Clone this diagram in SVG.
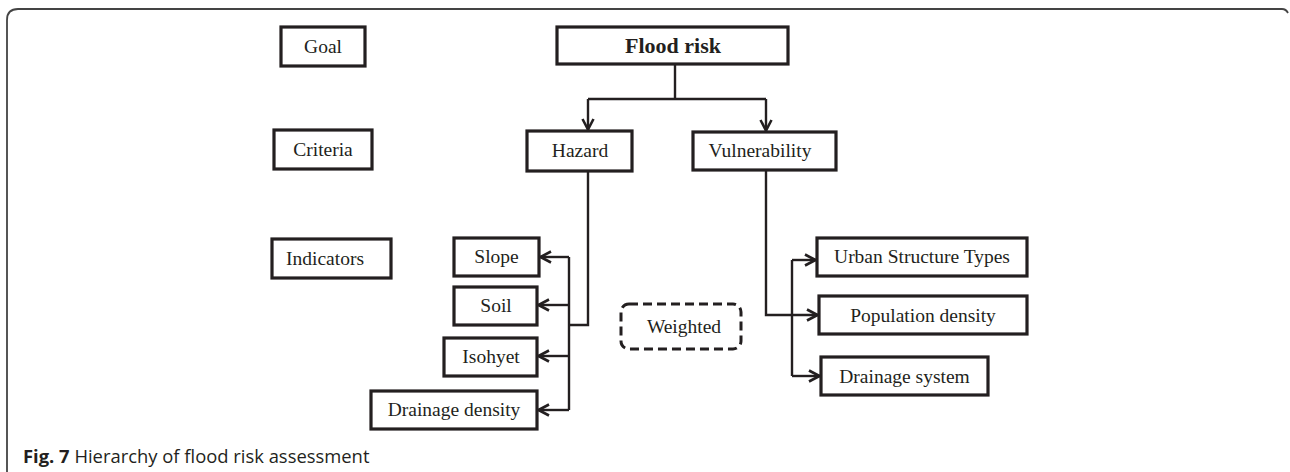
<svg xmlns="http://www.w3.org/2000/svg" width="1290" height="472" viewBox="0 0 1290 472">
<defs>
<style>
.box{fill:#fff;stroke:#231f20;stroke-width:3.2}
.dash{fill:#fff;stroke:#231f20;stroke-width:3;stroke-dasharray:9 5}
.t{font-family:"Liberation Serif","Times New Roman",serif;font-size:19.5px;fill:#231f20;text-anchor:middle}
.tb{font-family:"Liberation Serif","Times New Roman",serif;font-size:22px;font-weight:bold;fill:#231f20;text-anchor:middle}
.ln{fill:none;stroke:#231f20;stroke-width:2.4}
.ar{fill:none;stroke:#231f20;stroke-width:2.4;marker-end:url(#arr)}
.cap{font-family:"Open Sans","Noto Sans",sans-serif;font-size:18.4px;fill:#231f20}
</style>
<marker id="arr" viewBox="0 0 14 14" refX="13" refY="7" markerWidth="14" markerHeight="14" markerUnits="userSpaceOnUse" orient="auto">
<path d="M2,1.5 L12.5,7 L2,12.5" fill="none" stroke="#231f20" stroke-width="2.6"/>
</marker>
</defs>
<rect width="1290" height="472" fill="#fff"/>
<path d="M7,472 L7,20 Q7,9 18,9 L1282,9 Q1286,9 1288,13" fill="none" stroke="#444" stroke-width="1.8"/>

<g id="connectors">
<path class="ln" d="M675,64 V99"/>
<path class="ln" d="M588,99 H766"/>
<path class="ar" d="M588,99 V130"/>
<path class="ar" d="M766,99 V131"/>
<path class="ln" d="M588,171 V325 H569"/>
<path class="ln" d="M569,257 V410"/>
<path class="ar" d="M569,257 H540"/>
<path class="ar" d="M569,305 H538"/>
<path class="ar" d="M569,356 H538"/>
<path class="ar" d="M569,410 H538"/>
<path class="ar" d="M766,170 V315 H818"/>
<path class="ln" d="M792,260 V376"/>
<path class="ar" d="M792,260 H816"/>
<path class="ar" d="M792,376 H820"/>
</g>

<g id="goal"><rect class="box" x="281" y="27" width="84" height="39"/><text class="t" x="323" y="53">Goal</text></g>
<g id="criteria"><rect class="box" x="274" y="130" width="98" height="39"/><text class="t" x="323" y="156">Criteria</text></g>
<g id="indicators"><rect class="box" x="272" y="239" width="119" height="39"/><text class="t" x="325" y="265">Indicators</text></g>

<g id="flood-risk"><rect class="box" x="557" y="27" width="231" height="37"/><text class="tb" x="673" y="53">Flood risk</text></g>
<g id="hazard"><rect class="box" x="527" y="131" width="105" height="40"/><text class="t" x="580" y="157">Hazard</text></g>
<g id="vulnerability"><rect class="box" x="693" y="132" width="143" height="38"/><text class="t" x="760" y="157">Vulnerability</text></g>

<g id="slope"><rect class="box" x="454" y="238" width="85" height="38"/><text class="t" x="496.5" y="263">Slope</text></g>
<g id="soil"><rect class="box" x="454" y="287" width="83" height="38"/><text class="t" x="496" y="312">Soil</text></g>
<g id="isohyet"><rect class="box" x="444" y="338" width="93" height="38"/><text class="t" x="491" y="363">Isohyet</text></g>
<g id="drainage-density"><rect class="box" x="371" y="391" width="166" height="38"/><text class="t" x="454" y="416">Drainage density</text></g>

<g id="weighted"><rect class="dash" x="621" y="304" width="120" height="45" rx="8"/><text class="t" x="684" y="333">Weighted</text></g>

<g id="urban-structure-types"><rect class="box" x="817" y="238" width="210" height="38"/><text class="t" x="922" y="263">Urban Structure Types</text></g>
<g id="population-density"><rect class="box" x="819" y="296" width="208" height="38"/><text class="t" x="923" y="322">Population density</text></g>
<g id="drainage-system"><rect class="box" x="821" y="357" width="167" height="38"/><text class="t" x="904.5" y="383">Drainage system</text></g>

<text class="cap" x="23" y="463"><tspan font-weight="bold">Fig. 7</tspan> Hierarchy of flood risk assessment</text>
</svg>
